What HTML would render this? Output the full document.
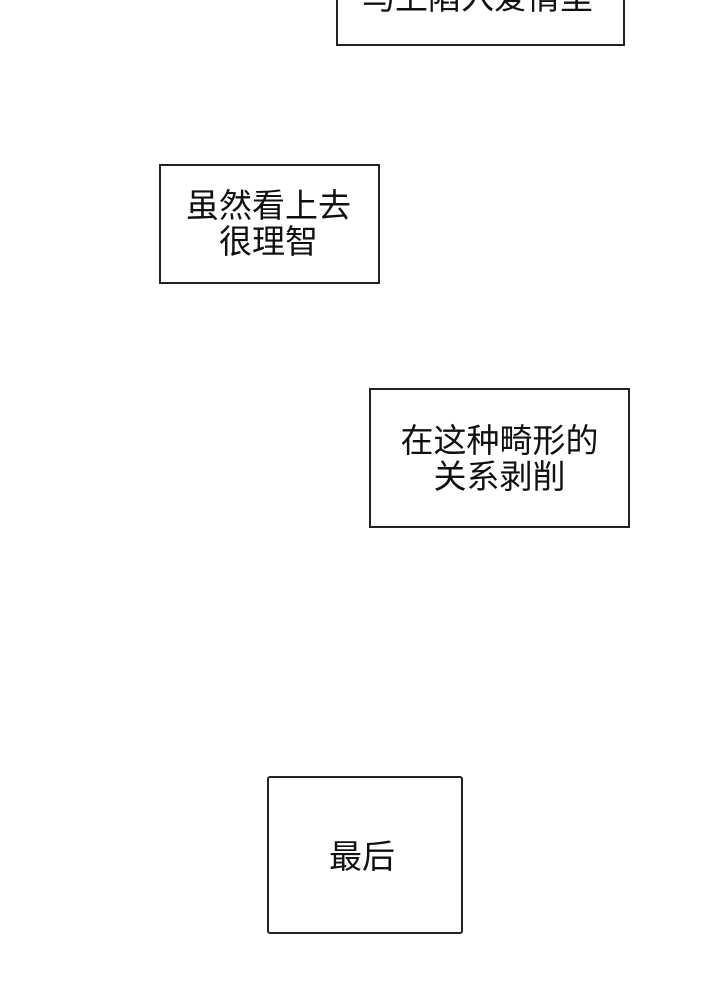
<!DOCTYPE html>
<html><head><meta charset="utf-8"><style>
body{margin:0;width:720px;height:985px;background:#fff;position:relative;overflow:hidden;font-family:"Liberation Sans","Noto Sans CJK SC",sans-serif;color:#111}
.b{position:absolute;border:2px solid #222;box-sizing:border-box;background:#fff}
.t{position:absolute;left:0;right:0;text-align:center;font-size:33px;line-height:36px;white-space:nowrap}
</style></head><body>
<div class="b" style="left:336px;top:-20px;width:289px;height:66px"><div class="t" style="top:-2px;left:-6px">马上陷入爱情里</div></div>
<div class="b" style="left:159px;top:164px;width:221px;height:120px"><div class="t" style="top:22px;left:-2px">虽然看上去<br>很理智</div></div>
<div class="b" style="left:369px;top:388px;width:261px;height:140px"><div class="t" style="top:33px">在这种畸形的<br>关系剥削</div></div>
<div class="b" style="left:267px;top:776px;width:196px;height:158px;border-radius:3px"><div class="t" style="top:61px;left:-6px">最后</div></div>
</body></html>
